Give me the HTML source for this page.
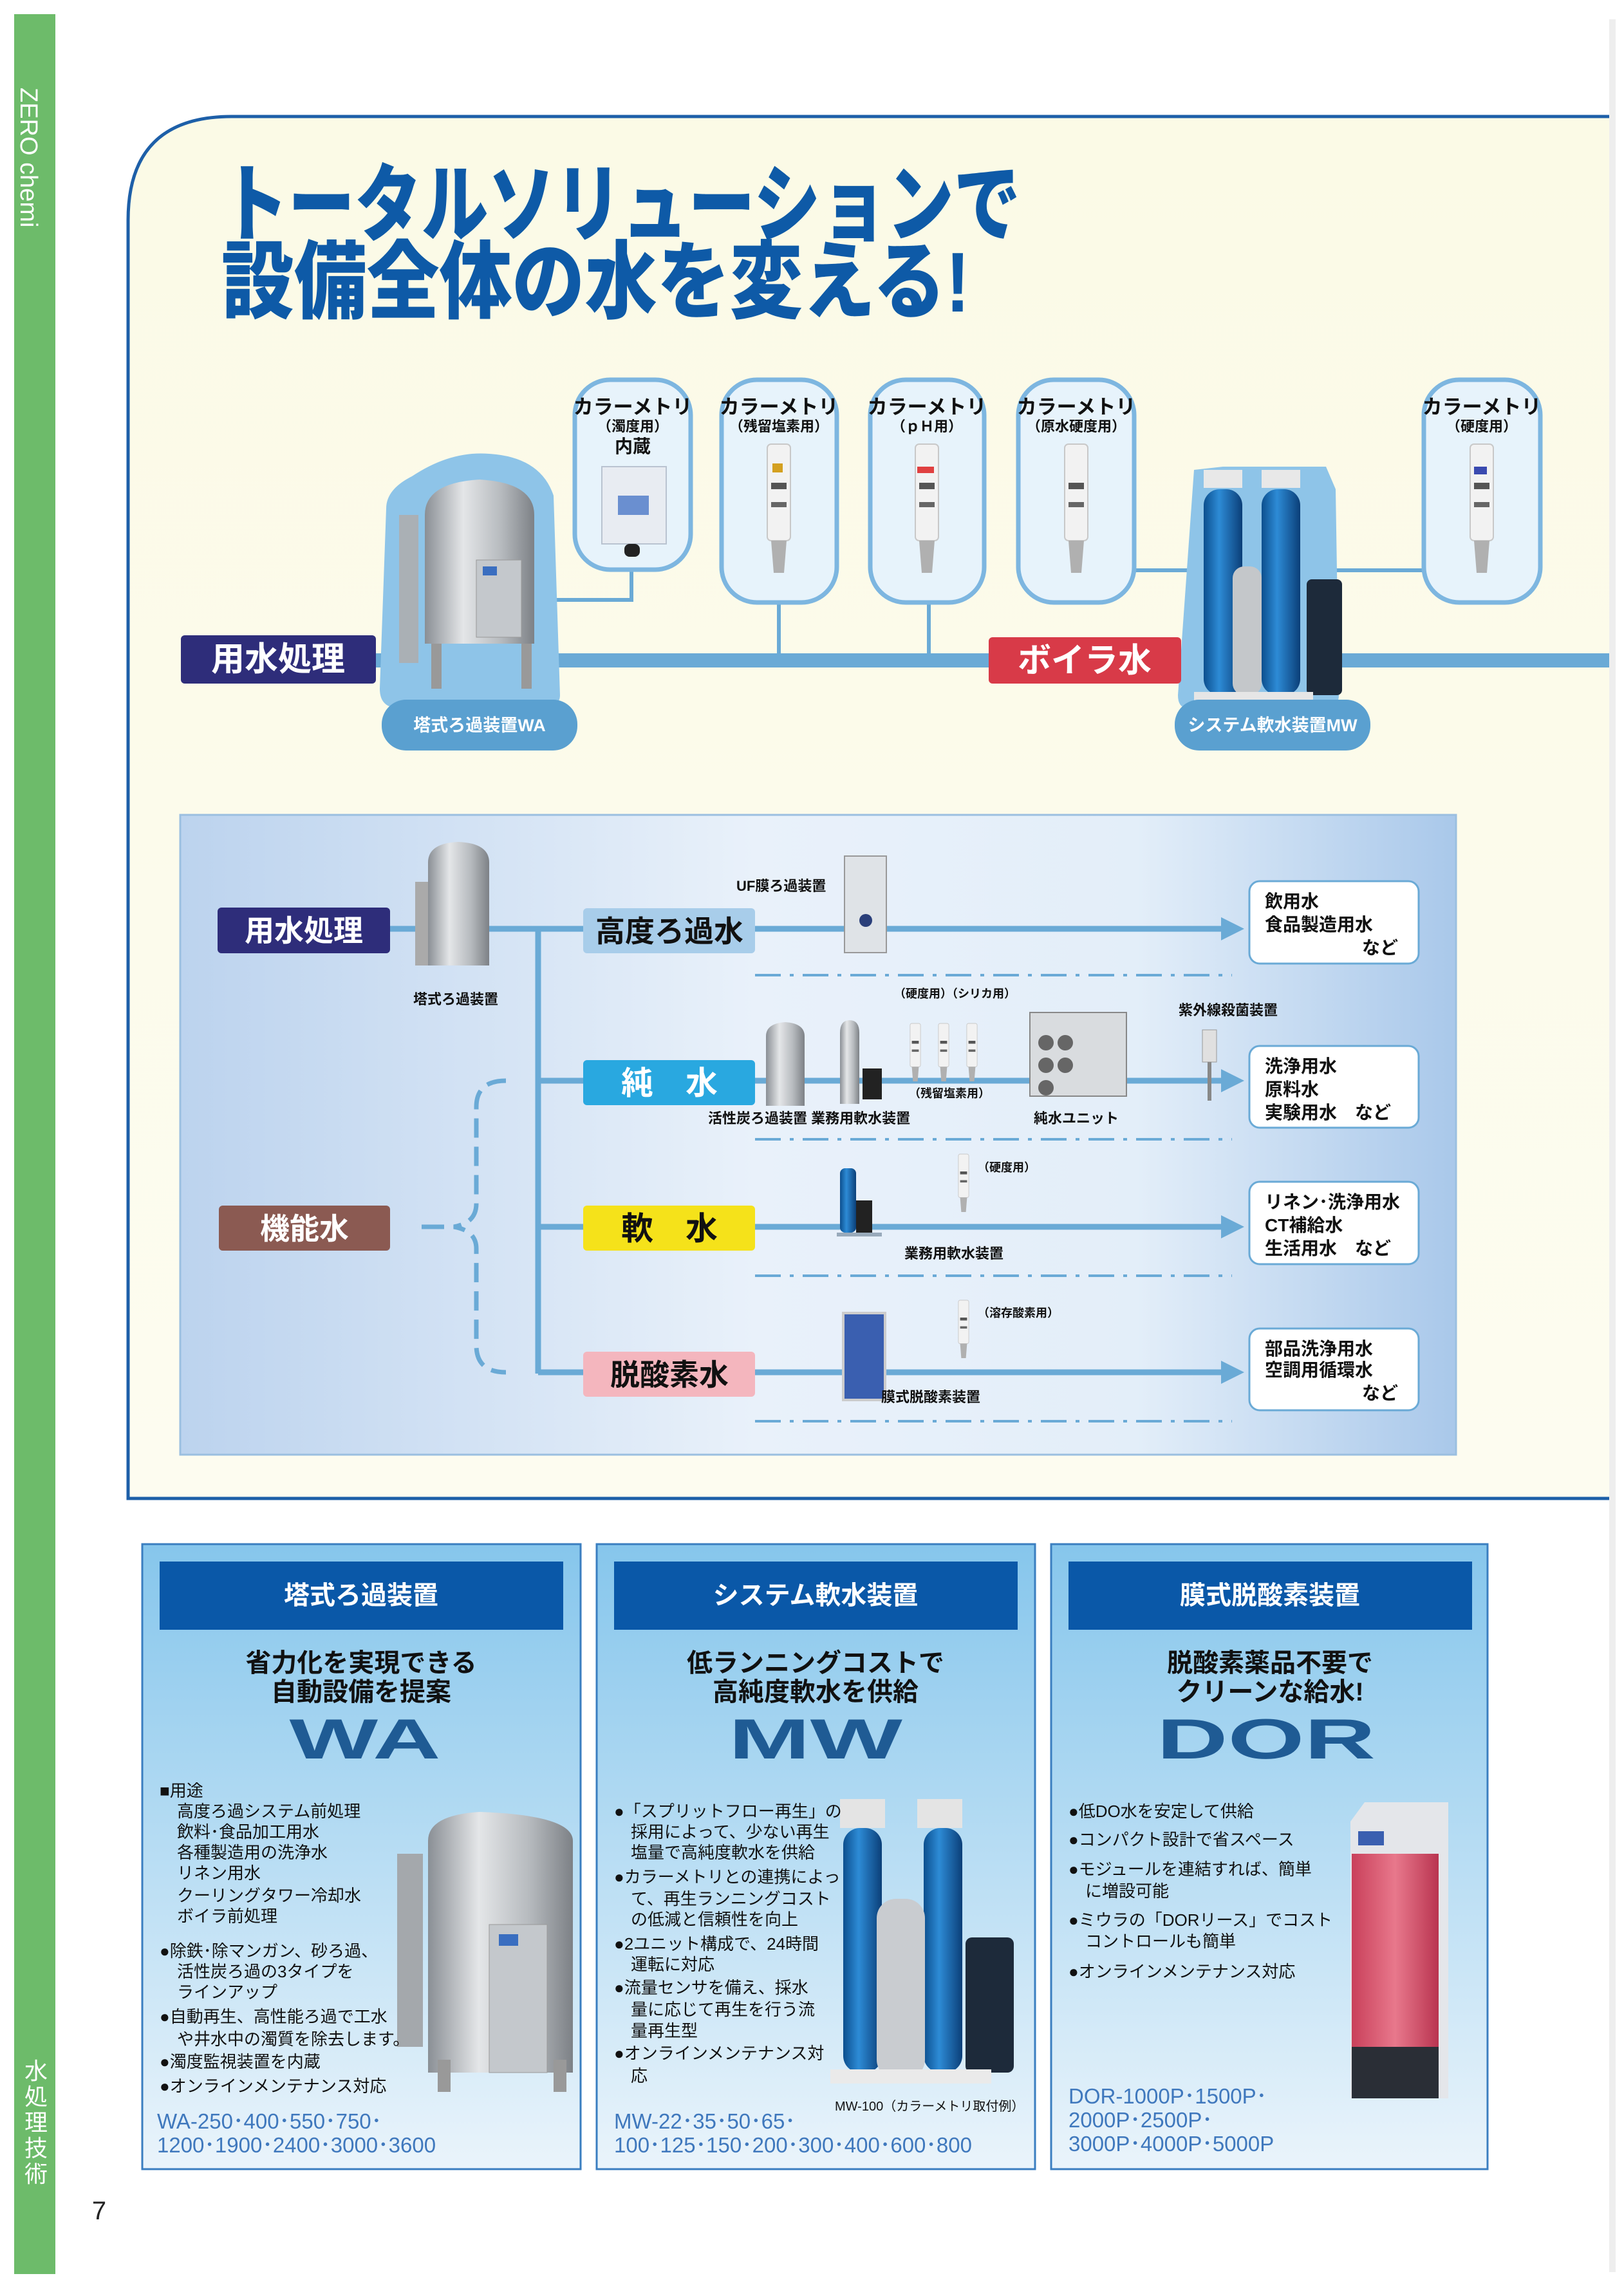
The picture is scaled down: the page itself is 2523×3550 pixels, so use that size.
<!DOCTYPE html>
<html><head><meta charset="utf-8"><style>
html,body{margin:0;padding:0;background:#fff}
svg{display:block}
text{font-family:"Liberation Sans","Noto Sans CJK JP",sans-serif}
</style></head><body>
<svg width="2523" height="3550" viewBox="0 0 2523 3550" xmlns="http://www.w3.org/2000/svg">
<defs>
<linearGradient id="cream" x1="0" y1="0" x2="0" y2="1"><stop offset="0" stop-color="#fbfae6"/><stop offset="1" stop-color="#fdfcf0"/></linearGradient>
<linearGradient id="mid" x1="0" y1="0" x2="1" y2="0"><stop offset="0" stop-color="#bcd3ee"/><stop offset="0.45" stop-color="#e9f1fa"/><stop offset="0.75" stop-color="#e3eef9"/><stop offset="1" stop-color="#a9c8ea"/></linearGradient>
<linearGradient id="card" x1="0" y1="0" x2="0" y2="1"><stop offset="0" stop-color="#86c6ec"/><stop offset="1" stop-color="#eaf4fb"/></linearGradient>
<linearGradient id="steel" x1="0" y1="0" x2="1" y2="0"><stop offset="0" stop-color="#8a8f95"/><stop offset="0.35" stop-color="#e4e6e8"/><stop offset="0.7" stop-color="#b6babe"/><stop offset="1" stop-color="#7d8186"/></linearGradient>
<linearGradient id="blue" x1="0" y1="0" x2="1" y2="0"><stop offset="0" stop-color="#0c4f8e"/><stop offset="0.4" stop-color="#2d8bd6"/><stop offset="1" stop-color="#0b3f78"/></linearGradient>
<linearGradient id="red" x1="0" y1="0" x2="1" y2="0"><stop offset="0" stop-color="#c9405a"/><stop offset="0.5" stop-color="#e8788c"/><stop offset="1" stop-color="#b93450"/></linearGradient>
<marker id="ar" markerWidth="4" markerHeight="4" refX="2" refY="2" orient="auto" markerUnits="strokeWidth"><path d="M0,0 L4,2 L0,4 z" fill="#6aaad6"/></marker>
<g id="sensor"><rect x="-18" y="0" width="36" height="150" rx="6" fill="#f2f2f2" stroke="#c8c8c8" stroke-width="2"/><rect x="-12" y="60" width="24" height="10" fill="#555"/><rect x="-12" y="90" width="24" height="8" fill="#666"/><path d="M-12,150 L12,150 L8,200 L-8,200 z" fill="#b0b0b0"/></g>
</defs>

<rect x="22" y="22" width="64" height="3511" fill="#6dbb6a"/>
<text transform="translate(44,136) rotate(90)" font-size="38" fill="#fff" dominant-baseline="central">ZERO chemi</text>
<text x="56" y="3230" font-size="36" fill="#fff" text-anchor="middle">水</text>
<text x="56" y="3270" font-size="36" fill="#fff" text-anchor="middle">処</text>
<text x="56" y="3310" font-size="36" fill="#fff" text-anchor="middle">理</text>
<text x="56" y="3350" font-size="36" fill="#fff" text-anchor="middle">技</text>
<text x="56" y="3390" font-size="36" fill="#fff" text-anchor="middle">術</text>
<text x="154" y="3448" font-size="40" fill="#222" text-anchor="middle">7</text>
<rect x="2500" y="30" width="10" height="3500" fill="#eeeeee"/>

<path d="M2500,181 L360,181 Q199,181 199,342 L199,2328 L2500,2328" fill="url(#cream)" stroke="#1d5fa8" stroke-width="5"/>
<g transform="translate(344,364) scale(0.785,1)"><text x="0" y="0" font-size="132" font-weight="900" fill="#0e5aa7">トータルソリューションで</text></g>
<g transform="translate(344,484) scale(0.855,1)"><text x="0" y="0" font-size="132" font-weight="900" fill="#0e5aa7">設備全体の水を変える!</text></g>

<rect x="584" y="1015" width="1916" height="22" fill="#6aaad6"/>
<path d="M981,885 V932 H756" fill="none" stroke="#6aaad6" stroke-width="6"/>
<path d="M1210,936 V1020 M1443,936 V1020" stroke="#6aaad6" stroke-width="6"/>
<path d="M1762,886 H1860 M2075,886 H2212" stroke="#6aaad6" stroke-width="6"/>

<g stroke="#7db6e0" stroke-width="7" fill="#e7f3fb">
<rect x="893" y="590" width="180" height="295" rx="55"/>
<rect x="1121" y="590" width="179" height="346" rx="55"/>
<rect x="1352" y="590" width="177" height="346" rx="55"/>
<rect x="1582" y="590" width="180" height="346" rx="55"/>
<rect x="2212" y="590" width="181" height="346" rx="55"/>
</g>
<g font-size="31" fill="#111" text-anchor="middle" font-weight="bold">
<text x="983" y="643">カラーメトリ</text><text x="983" y="670" font-size="22">（濁度用）</text><text x="983" y="703" font-size="28">内蔵</text>
<text x="1210" y="643">カラーメトリ</text><text x="1210" y="670" font-size="22">（残留塩素用）</text>
<text x="1440" y="643">カラーメトリ</text><text x="1440" y="670" font-size="22">（ｐＨ用）</text>
<text x="1672" y="643">カラーメトリ</text><text x="1672" y="670" font-size="22">（原水硬度用）</text>
<text x="2302" y="643">カラーメトリ</text><text x="2302" y="670" font-size="22">（硬度用）</text>
</g>
<rect x="935" y="725" width="100" height="120" fill="#e8ecf2" stroke="#b9c3d0" stroke-width="2"/><rect x="960" y="770" width="48" height="30" fill="#6a8fd0"/><rect x="970" y="845" width="24" height="20" rx="8" fill="#222"/>
<use href="#sensor" x="1210" y="690"/><rect x="1200" y="720" width="16" height="14" fill="#d4a020"/>
<use href="#sensor" x="1440" y="690"/><rect x="1425" y="725" width="26" height="10" fill="#e04040"/>
<use href="#sensor" x="1672" y="690"/>
<use href="#sensor" x="2302" y="690"/><rect x="2290" y="725" width="20" height="12" fill="#3a4ab0"/>

<path d="M600,790 Q600,760 640,740 Q700,700 760,705 Q840,710 860,770 L870,1080 Q870,1100 840,1100 L620,1100 Q590,1100 590,1070 z" fill="#8ec4e8"/>
<rect x="620" y="800" width="30" height="230" fill="#aab0b5"/>
<path d="M660,800 Q660,750 745,745 Q830,750 830,800 L830,1000 L660,1000 z" fill="url(#steel)"/>
<rect x="740" y="870" width="70" height="120" fill="#c4c8cc" stroke="#999"/><rect x="750" y="880" width="22" height="14" fill="#3a6ec0"/>
<rect x="670" y="1000" width="16" height="70" fill="#999"/><rect x="810" y="1000" width="16" height="70" fill="#999"/>
<rect x="593" y="1087" width="304" height="79" rx="38" fill="#5aa0d0"/>
<text x="745" y="1127" font-size="27" fill="#fff" text-anchor="middle" dominant-baseline="central" font-weight="bold">塔式ろ過装置WA</text>

<path d="M1855,730 L1900,725 L2060,725 L2075,760 L2080,1080 Q2080,1100 2060,1100 L1845,1100 Q1830,1100 1830,1080 z" fill="#8ec4e8"/>
<rect x="1870" y="760" width="60" height="320" rx="25" fill="url(#blue)"/>
<rect x="1960" y="760" width="60" height="320" rx="25" fill="url(#blue)"/>
<rect x="1915" y="880" width="45" height="200" rx="18" fill="#c4c7ca"/>
<rect x="2030" y="900" width="55" height="180" rx="8" fill="#1d2a3a"/>
<rect x="1870" y="730" width="60" height="28" fill="#e8e8e8"/><rect x="1960" y="730" width="60" height="28" fill="#e8e8e8"/>
<rect x="1855" y="1075" width="185" height="15" fill="#e6e6e6"/>
<rect x="1825" y="1087" width="304" height="79" rx="38" fill="#5aa0d0"/>
<text x="1977" y="1127" font-size="27" fill="#fff" text-anchor="middle" dominant-baseline="central" font-weight="bold">システム軟水装置MW</text>

<rect x="281" y="987" width="303" height="75" rx="6" fill="#2e2d7a"/>
<text x="432" y="1025" font-size="52" fill="#fff" text-anchor="middle" dominant-baseline="central" font-weight="bold">用水処理</text>
<rect x="1536" y="990" width="299" height="72" rx="6" fill="#d83a48"/>
<text x="1685" y="1027" font-size="52" fill="#fff" text-anchor="middle" dominant-baseline="central" font-weight="bold">ボイラ水</text>

<rect x="280" y="1266" width="1982" height="994" fill="url(#mid)" stroke="#9bbfe0" stroke-width="3"/>
<g stroke="#6aaad6" stroke-width="9" fill="none">
<path d="M606,1443 H836 M836,1443 V2134"/>
<path d="M836,1443 H906 M836,1679 H906 M836,1906 H906 M836,2132 H906"/>
<path d="M1173,1443 H1915" marker-end="url(#ar)"/>
<path d="M1173,1679 H1915" marker-end="url(#ar)"/>
<path d="M1173,1906 H1915" marker-end="url(#ar)"/>
<path d="M1173,2132 H1915" marker-end="url(#ar)"/>
</g>
<g stroke="#6aaad6" stroke-width="4" stroke-dasharray="40,14,6,14" fill="none">
<path d="M1173,1515 H1914 M1173,1770 H1914 M1173,1982 H1914 M1173,2208 H1914"/>
</g>
<path d="M786,1679 Q740,1679 740,1720 V1870 Q740,1900 705,1906 Q740,1912 740,1940 V2090 Q740,2132 786,2132" fill="none" stroke="#6aaad6" stroke-width="7" stroke-dasharray="30,14"/>
<path d="M655,1906 H690" stroke="#6aaad6" stroke-width="7"/>

<rect x="338" y="1410" width="268" height="71" rx="6" fill="#2e2d7a"/>
<text x="472" y="1446" font-size="46" fill="#fff" text-anchor="middle" dominant-baseline="central" font-weight="bold">用水処理</text>
<rect x="340" y="1873" width="266" height="70" rx="6" fill="#8b5a52"/>
<text x="473" y="1909" font-size="46" fill="#fff" text-anchor="middle" dominant-baseline="central" font-weight="bold">機能水</text>
<rect x="906" y="1411" width="267" height="70" rx="6" fill="#a8cdea"/>
<text x="1040" y="1447" font-size="46" fill="#111" text-anchor="middle" dominant-baseline="central" font-weight="bold">高度ろ過水</text>
<rect x="906" y="1647" width="267" height="70" rx="6" fill="#29a8e0"/>
<text x="1040" y="1683" font-size="50" fill="#fff" text-anchor="middle" dominant-baseline="central" font-weight="bold">純　水</text>
<rect x="906" y="1873" width="267" height="70" rx="6" fill="#f5e21a"/>
<text x="1040" y="1909" font-size="50" fill="#111" text-anchor="middle" dominant-baseline="central" font-weight="bold">軟　水</text>
<rect x="906" y="2100" width="267" height="70" rx="6" fill="#f4b6be"/>
<text x="1040" y="2136" font-size="46" fill="#111" text-anchor="middle" dominant-baseline="central" font-weight="bold">脱酸素水</text>

<path d="M665,1340 Q665,1310 712,1308 Q760,1310 760,1340 L760,1500 L665,1500 z" fill="url(#steel)"/><rect x="645" y="1370" width="20" height="130" fill="#aaa"/>
<rect x="1312" y="1330" width="65" height="150" fill="#dfe3e7" stroke="#999" stroke-width="2"/><circle cx="1345" cy="1430" r="10" fill="#2a3f7a"/>
<path d="M1190,1610 Q1190,1590 1220,1588 Q1250,1590 1250,1610 L1250,1718 L1190,1718 z" fill="url(#steel)"/>
<path d="M1305,1605 Q1305,1585 1320,1585 Q1335,1585 1335,1605 L1335,1715 L1305,1715 z" fill="url(#steel)"/>
<rect x="1340" y="1660" width="30" height="48" fill="#222"/>
<g transform="translate(1422,1590) scale(0.45)"><use href="#sensor"/></g>
<g transform="translate(1466,1590) scale(0.45)"><use href="#sensor"/></g>
<g transform="translate(1510,1590) scale(0.45)"><use href="#sensor"/></g>
<rect x="1600" y="1573" width="150" height="130" fill="#d9dcdf" stroke="#888" stroke-width="2"/>
<g fill="#666"><circle cx="1625" cy="1620" r="12"/><circle cx="1625" cy="1655" r="12"/><circle cx="1625" cy="1690" r="12"/><circle cx="1655" cy="1620" r="12"/><circle cx="1655" cy="1655" r="12"/></g>
<rect x="1868" y="1600" width="22" height="50" fill="#e0e0e0" stroke="#999"/><rect x="1876" y="1650" width="6" height="60" fill="#888"/>
<rect x="1305" y="1815" width="25" height="100" rx="8" fill="url(#blue)"/><rect x="1330" y="1865" width="25" height="55" fill="#222"/><rect x="1300" y="1915" width="70" height="6" fill="#9ab"/>
<g transform="translate(1497,1793) scale(0.45)"><use href="#sensor"/></g>
<rect x="1310" y="2040" width="65" height="135" fill="#3a5fb0" stroke="#ccc" stroke-width="4"/>
<g transform="translate(1497,2020) scale(0.45)"><use href="#sensor"/></g>

<g font-size="22" fill="#111" font-weight="bold">
<text x="1144" y="1384">UF膜ろ過装置</text>
<text x="642" y="1560">塔式ろ過装置</text>
<text x="1389" y="1550" font-size="18">（硬度用）（シリカ用）</text>
<text x="1831" y="1577">紫外線殺菌装置</text>
<text x="1412" y="1705" font-size="18">（残留塩素用）</text>
<text x="1100" y="1745">活性炭ろ過装置 業務用軟水装置</text>
<text x="1606" y="1745">純水ユニット</text>
<text x="1519" y="1820" font-size="18">（硬度用）</text>
<text x="1405" y="1955">業務用軟水装置</text>
<text x="1519" y="2046" font-size="18">（溶存酸素用）</text>
<text x="1369" y="2178">膜式脱酸素装置</text>
</g>

<g fill="#fff" stroke="#6aaad6" stroke-width="3">
<rect x="1941" y="1369" width="263" height="128" rx="16"/>
<rect x="1941" y="1625" width="263" height="127" rx="16"/>
<rect x="1941" y="1836" width="263" height="128" rx="16"/>
<rect x="1941" y="2064" width="263" height="127" rx="16"/>
</g>
<g font-size="28" fill="#111" font-weight="bold">
<text x="1965" y="1410">飲用水</text><text x="1965" y="1446">食品製造用水</text><text x="2172" y="1482" text-anchor="end">など</text>
<text x="1965" y="1666">洗浄用水</text><text x="1965" y="1702">原料水</text><text x="1965" y="1738">実験用水　など</text>
<text x="1965" y="1877">リネン･洗浄用水</text><text x="1965" y="1913">CT補給水</text><text x="1965" y="1949">生活用水　など</text>
<text x="1965" y="2105">部品洗浄用水</text><text x="1965" y="2138">空調用循環水</text><text x="2172" y="2174" text-anchor="end">など</text>
</g>

<g stroke="#3a7ec0" stroke-width="3" fill="url(#card)">
<rect x="221" y="2399" width="681" height="971"/>
<rect x="927" y="2399" width="681" height="971"/>
<rect x="1633" y="2399" width="678" height="971"/>
</g>
<g fill="#0a58a8"><rect x="248" y="2426" width="627" height="106"/><rect x="954" y="2426" width="627" height="106"/><rect x="1660" y="2426" width="627" height="106"/></g>
<g font-size="40" fill="#fff" text-anchor="middle" dominant-baseline="central" font-weight="bold">
<text x="561" y="2479">塔式ろ過装置</text><text x="1267" y="2479">システム軟水装置</text><text x="1973" y="2479">膜式脱酸素装置</text>
</g>
<g font-size="40" fill="#111" text-anchor="middle" dominant-baseline="central" font-weight="bold">
<text x="561" y="2584">省力化を実現できる</text><text x="561" y="2629">自動設備を提案</text>
<text x="1267" y="2584">低ランニングコストで</text><text x="1267" y="2629">高純度軟水を供給</text>
<text x="1973" y="2584">脱酸素薬品不要で</text><text x="1973" y="2629">クリーンな給水!</text>
</g>
<g font-size="88" fill="#1f5b94" text-anchor="middle" font-weight="900" font-family="Liberation Sans, sans-serif">
<text x="567" y="2732" textLength="235" lengthAdjust="spacingAndGlyphs">WA</text>
<text x="1267" y="2732" textLength="270" lengthAdjust="spacingAndGlyphs">MW</text>
<text x="1967" y="2732" textLength="340" lengthAdjust="spacingAndGlyphs">DOR</text>
</g>

<path d="M665,2860 Q665,2820 745,2815 Q890,2820 890,2860 L890,3220 L665,3220 z" fill="url(#steel)"/>
<rect x="617" y="2880" width="40" height="300" fill="#a4a8ac"/>
<rect x="760" y="2990" width="90" height="230" fill="#c4c8cc" stroke="#999"/><rect x="775" y="3005" width="30" height="18" fill="#3a6ec0"/>
<rect x="680" y="3200" width="20" height="50" fill="#999"/><rect x="860" y="3200" width="20" height="50" fill="#999"/>
<rect x="1310" y="2840" width="60" height="380" rx="26" fill="url(#blue)"/>
<rect x="1435" y="2840" width="60" height="380" rx="26" fill="url(#blue)"/>
<rect x="1362" y="2950" width="75" height="280" rx="30" fill="#c9ccd0"/>
<rect x="1500" y="3010" width="75" height="210" rx="10" fill="#1d2a3a"/>
<rect x="1305" y="2795" width="70" height="45" fill="#e4e4e4"/><rect x="1425" y="2795" width="70" height="45" fill="#e4e4e4"/>
<rect x="1290" y="3215" width="250" height="22" fill="#eaeaea"/>
<path d="M2098,2830 L2120,2800 L2250,2800 L2250,3260 L2098,3260 z" fill="#e4e6ea"/>
<rect x="2100" y="2880" width="135" height="300" fill="url(#red)"/>
<rect x="2100" y="3180" width="135" height="80" fill="#2a2e36"/>
<rect x="2110" y="2845" width="40" height="22" fill="#3a5fb0"/>

<g font-size="26" fill="#111">
<text x="248" y="2791">■用途</text>
<text x="275" y="2823">高度ろ過システム前処理</text>
<text x="275" y="2855">飲料･食品加工用水</text>
<text x="275" y="2887">各種製造用の洗浄水</text>
<text x="275" y="2919">リネン用水</text>
<text x="275" y="2954">クーリングタワー冷却水</text>
<text x="275" y="2986">ボイラ前処理</text>
<text x="248" y="3040">●除鉄･除マンガン、砂ろ過、</text>
<text x="275" y="3072">活性炭ろ過の3タイプを</text>
<text x="275" y="3104">ラインアップ</text>
<text x="248" y="3142">●自動再生、高性能ろ過で工水</text>
<text x="275" y="3177">や井水中の濁質を除去します。</text>
<text x="248" y="3212">●濁度監視装置を内蔵</text>
<text x="248" y="3250">●オンラインメンテナンス対応</text>

<text x="954" y="2823">●「スプリットフロー再生」の</text>
<text x="980" y="2855">採用によって、少ない再生</text>
<text x="980" y="2887">塩量で高純度軟水を供給</text>
<text x="954" y="2925">●カラーメトリとの連携によっ</text>
<text x="980" y="2959">て、再生ランニングコスト</text>
<text x="980" y="2991">の低減と信頼性を向上</text>
<text x="954" y="3029">●2ユニット構成で、24時間</text>
<text x="980" y="3061">運転に対応</text>
<text x="954" y="3097">●流量センサを備え、採水</text>
<text x="980" y="3131">量に応じて再生を行う流</text>
<text x="980" y="3164">量再生型</text>
<text x="954" y="3199">●オンラインメンテナンス対</text>
<text x="980" y="3234">応</text>

<text x="1660" y="2823">●低DO水を安定して供給</text>
<text x="1660" y="2867">●コンパクト設計で省スペース</text>
<text x="1660" y="2913">●モジュールを連結すれば、簡単</text>
<text x="1686" y="2947">に増設可能</text>
<text x="1660" y="2992">●ミウラの「DORリース」でコスト</text>
<text x="1686" y="3025">コントロールも簡単</text>
<text x="1660" y="3072">●オンラインメンテナンス対応</text>
</g>
<text x="1297" y="3279" font-size="20" fill="#111">MW-100（カラーメトリ取付例）</text>
<g font-size="33" fill="#3f78bd">
<text x="244" y="3307">WA-250･400･550･750･</text>
<text x="244" y="3344">1200･1900･2400･3000･3600</text>
<text x="954" y="3307">MW-22･35･50･65･</text>
<text x="954" y="3344">100･125･150･200･300･400･600･800</text>
<text x="1660" y="3268">DOR-1000P･1500P･</text>
<text x="1660" y="3305">2000P･2500P･</text>
<text x="1660" y="3342">3000P･4000P･5000P</text>
</g>
</svg>
</body></html>
